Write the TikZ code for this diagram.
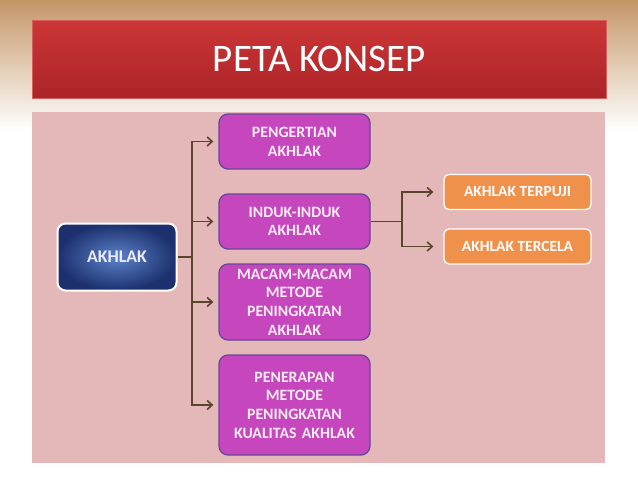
\documentclass[tikz,border=0pt]{standalone}
\usepackage{fontspec}
\setmainfont{Carlito}
\usepackage{tikz}
\usepackage{xcolor}
\usetikzlibrary{arrows.meta,positioning}
\definecolor{panel-pink}{RGB}{228,184,184}
\definecolor{bar-red}{RGB}{204,54,54}
\definecolor{bar-dark}{RGB}{172,36,40}
\definecolor{sub-magenta}{RGB}{198,70,190}
\definecolor{sub-border}{RGB}{104,72,150}
\definecolor{leaf-orange}{RGB}{240,145,75}
\definecolor{main-light}{RGB}{92,130,200}
\definecolor{main-dark}{RGB}{28,48,110}
\definecolor{link-brown}{RGB}{90,68,44}
\definecolor{photo-tan}{RGB}{196,150,104}
\tikzset{
    title-bar/.style = {rectangle, draw=bar-red!80!white, line width=1pt, top color=bar-red, bottom color=bar-dark, minimum width=574pt, minimum height=78pt},
    main-box/.style = {draw=white, line width=2pt, rectangle, rounded corners=8pt, inner color=main-light, outer color=main-dark, minimum width=119pt, minimum height=67pt, text=white!92!blue, font=\bfseries\fontsize{17.8}{20}\selectfont},
    sub-box/.style = {draw=sub-border, fill=sub-magenta, line width=1.3pt, rectangle, rounded corners=9pt, minimum width=151pt, text width=140pt, align=center, text=white!92!magenta, font=\bfseries\fontsize{15.8}{18.7}\selectfont},
    leaf-box/.style = {draw=white, fill=leaf-orange, line width=1.3pt, rectangle, rounded corners=5pt, minimum width=147pt, minimum height=35pt, text=white, font=\bfseries\fontsize{15.5}{17}\selectfont},
    link/.style = {draw=link-brown, line width=1.6pt, -{Straight Barb[length=5pt,width=9pt]}},
}
\begin{document}
\begin{tikzpicture}[x=1pt, y=-1pt]
\useasboundingbox (0,0) rectangle (638,479);
% background
\fill[white] (0,0) rectangle (638,479);
\shade[top color=photo-tan, bottom color=white] (0,0) rectangle (638,130);
\fill[panel-pink] (32,112) rectangle (605,463);
\node[title-bar] (title) at (319.5,59) {};
\node[text=white, font=\fontsize{39}{42}\selectfont] at (title.center) {PETA KONSEP};
% nodes
\node[main-box] (akhlak) at (117,257) {AKHLAK};
\node[sub-box, minimum height=55pt] (pengertian) at (294.5,141.5) {PENGERTIAN\\AKHLAK};
\node[sub-box, minimum height=55pt] (induk) at (294.5,221.5) {INDUK-INDUK\\AKHLAK};
\node[sub-box, minimum height=76pt] (macam) at (294.5,302) {MACAM-MACAM\\METODE\\PENINGKATAN\\AKHLAK};
\node[sub-box, minimum height=100pt] (penerapan) at (294.5,405) {PENERAPAN\\METODE\\PENINGKATAN\\KUALITAS AKHLAK};
\node[leaf-box] (terpuji) at (517.5,192) {AKHLAK TERPUJI};
\node[leaf-box] (tercela) at (517.5,246.5) {AKHLAK TERCELA};
% connectors
\coordinate (trunk) at (192,257);
\coordinate (branch) at (402,221.5);
\draw[link-brown, line width=1.6pt] (akhlak.east) -- (trunk);
\draw[link, shorten >=5pt] (trunk) |- (pengertian.west);
\draw[link, shorten >=5pt] (trunk) |- (induk.west);
\draw[link, shorten >=5pt] (trunk) |- (macam.west);
\draw[link, shorten >=5pt] (trunk) |- (penerapan.west);
\draw[link-brown, line width=1.6pt] (induk.east) -- (branch);
\draw[link, shorten >=10pt] (branch) |- (terpuji.west);
\draw[link, shorten >=10pt] (branch) |- (tercela.west);
\end{tikzpicture}
\end{document}
